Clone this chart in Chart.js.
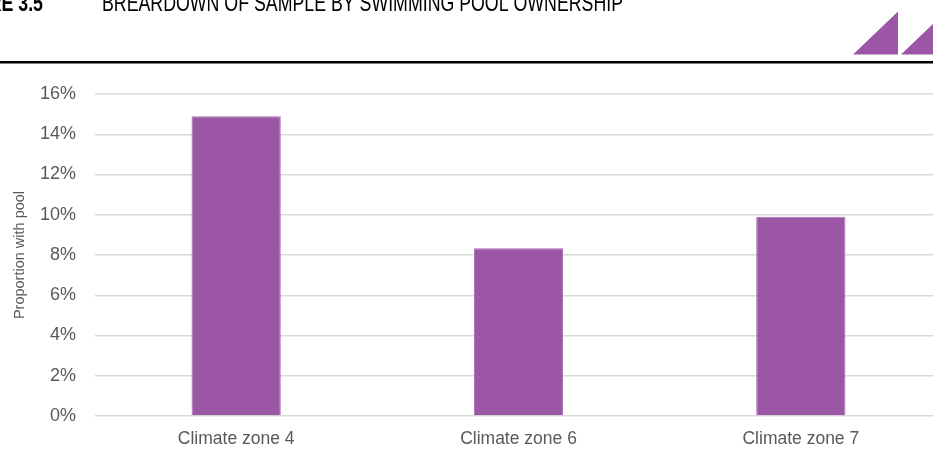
<!DOCTYPE html>
<html>
<head>
<meta charset="utf-8">
<script src="https://cdn.jsdelivr.net/npm/chart.js@4"></script>
<style>
  html, body { margin: 0; padding: 0; background: #fff; overflow: hidden; }
  #wrap { position: absolute; left: 0; top: 0; width: 950px; height: 451px; }
</style>
</head>
<body>
<div id="wrap"><canvas id="chart" width="950" height="451"></canvas></div>
<script>
const categories = ['Climate zone 4', 'Climate zone 6', 'Climate zone 7'];
const poolShare = [14.9, 8.33, 9.9];
const yTicks = [0, 2, 4, 6, 8, 10, 12, 14, 16];

const FONT = "'Liberation Sans', Arial, sans-serif";
const PURPLE = '#9b57a5';

// page furniture: cut-off heading, rule and the corner triangles
const decor = {
  id: 'decor',
  afterDraw(chart) {
    const ctx = chart.ctx;
    ctx.save();
    ctx.fillStyle = '#000';
    ctx.textBaseline = 'alphabetic';
    // heading is narrow type, only its lower half is in frame
    ctx.save();
    ctx.scale(0.74, 1);
    ctx.font = 'bold 24px ' + FONT;
    ctx.textAlign = 'right';
    ctx.fillText('FIGURE 3.5', 43 / 0.74, 11);
    ctx.font = '24px ' + FONT;
    ctx.textAlign = 'left';
    ctx.fillText('BREARDOWN OF SAMPLE BY SWIMMING POOL OWNERSHIP', 102 / 0.74, 11);
    ctx.restore();

    ctx.fillRect(0, 61, 950, 2.5);

    ctx.fillStyle = PURPLE;
    ctx.beginPath();
    ctx.moveTo(853, 54.5);
    ctx.lineTo(898, 54.5);
    ctx.lineTo(898, 11.5);
    ctx.closePath();
    ctx.fill();
    ctx.beginPath();
    ctx.moveTo(901, 54.5);
    ctx.lineTo(946, 54.5);
    ctx.lineTo(946, 11.5);
    ctx.closePath();
    ctx.fill();
    ctx.restore();
  }
};

new Chart(document.getElementById('chart').getContext('2d'), {
  type: 'bar',
  data: {
    labels: categories,
    datasets: [{
      label: 'Proportion with pool',
      data: poolShare,
      backgroundColor: PURPLE,
      borderColor: '#a76bb1',
      borderWidth: 1,
      categoryPercentage: 1,
      barPercentage: 0.316
    }]
  },
  options: {
    responsive: false,
    animation: false,
    layout: { padding: { top: 94, right: 8, bottom: 0, left: 0 } },
    plugins: { legend: { display: false }, tooltip: { enabled: false } },
    scales: {
      x: {
        grid: { display: false, drawTicks: false },
        border: { display: false },
        ticks: { color: '#595959', font: { family: FONT, size: 17.5 }, padding: 13 },
        afterFit(scale) { scale.height = 35; }
      },
      y: {
        min: 0,
        max: 16,
        afterBuildTicks(scale) { scale.ticks = yTicks.map(v => ({ value: v })); },
        grid: { color: '#d9d9d9', lineWidth: 1.5, drawTicks: false },
        border: { display: false },
        ticks: {
          color: '#595959',
          font: { family: FONT, size: 18 },
          padding: 19,
          callback: v => v + '%'
        },
        title: {
          display: true,
          text: 'Proportion with pool',
          color: '#595959',
          font: { family: FONT, size: 14.5 },
          padding: { top: 11, bottom: 0 }
        },
        afterFit(scale) { scale.width = 95; }
      }
    }
  },
  plugins: [decor]
});
</script>
</body>
</html>
